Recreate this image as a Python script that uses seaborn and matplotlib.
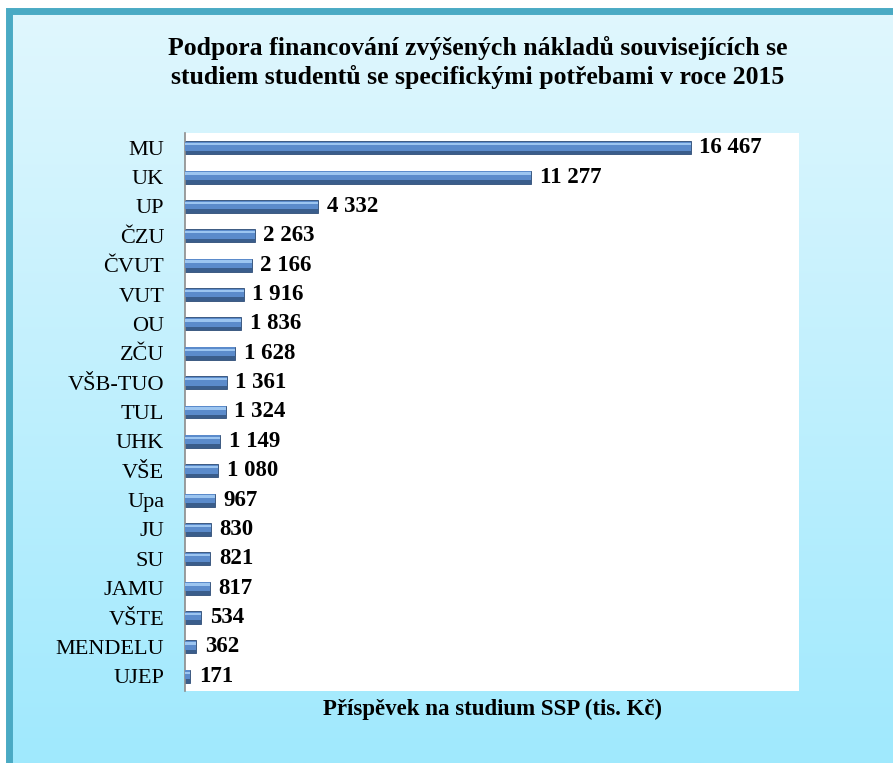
import numpy as np
import pandas as pd
import seaborn as sns
import matplotlib
matplotlib.use('Agg')
import matplotlib.pyplot as plt
from matplotlib.patches import Rectangle

# data (tis. Kč)
schools = ["MU", "UK", "UP", "ČZU", "ČVUT", "VUT", "OU", "ZČU", "VŠB-TUO", "TUL",
           "UHK", "VŠE", "Upa", "JU", "SU", "JAMU", "VŠTE", "MENDELU", "UJEP"]
values = [16467, 11277, 4332, 2263, 2166, 1916, 1836, 1628, 1361, 1324,
          1149, 1080, 967, 830, 821, 817, 534, 362, 171]
title = "Podpora financování zvýšených nákladů souvisejících se\nstudiem studentů se specifickými potřebami v roce 2015"
xlabel = "Příspěvek na studium SSP (tis. Kč)"

df = pd.DataFrame({"skola": schools, "castka": values})

sns.set_style("white")
plt.rcParams['font.family'] = ['Liberation Serif', 'DejaVu Serif']
plt.rcParams['text.color'] = 'black'
plt.rcParams['axes.labelcolor'] = 'black'
plt.rcParams['ytick.color'] = 'black'

fig = plt.figure(figsize=(8.93, 7.63), dpi=100)

# background: light blue gradient with teal frame
bg = fig.add_axes([0, 0, 1, 1], zorder=-10)
grad = np.linspace(0, 1, 256).reshape(-1, 1)
cmap = matplotlib.colors.LinearSegmentedColormap.from_list("bg", ["#E1F7FE", "#A0E9FD"])
bg.imshow(grad, aspect='auto', cmap=cmap, extent=[0, 1, 0, 1])
bg.set_xlim(0, 1)
bg.set_ylim(0, 1)
bg.axis('off')
bg.add_patch(Rectangle((0, 0.99), 1, 0.02, color='white', transform=bg.transAxes, zorder=2))
bg.add_patch(Rectangle((0, 0), 0.0067, 1, color='white', transform=bg.transAxes, zorder=2))
bg.add_patch(Rectangle((0.0101, -0.1), 1.1, 1.085, fill=False,
                       edgecolor='#4AAAC4', linewidth=5, transform=bg.transAxes, zorder=3))

ax = fig.add_axes([0.2072, 0.0944, 0.6876, 0.7313])
ax.set_facecolor('white')

sns.barplot(data=df, x="castka", y="skola", orient="h", color="#3A5D8B",
            width=0.44, saturation=1, ax=ax, edgecolor="#2F4E78", linewidth=0.6)
pos = np.arange(len(schools))
ax.barh(pos - 0.05, values, height=0.30, color="#5B8BCB", linewidth=0, zorder=3)
ax.barh(pos - 0.12, values, height=0.08, color="#9CC5F0", linewidth=0, zorder=4)

for i, v in enumerate(values):
    ax.text(v + 280, i, f"{v:,}".replace(",", " "), va='center', ha='left',
            fontsize=16.5, fontweight='bold', color='black')

ax.set_xlim(0, 20000)
ax.set_ylim(18.5, -0.5)
ax.set_xticks([])
ax.set_ylabel("")
ax.set_xlabel(xlabel, fontsize=16.5, fontweight='bold', labelpad=6)
ax.tick_params(axis='y', length=0, labelsize=16, pad=15, labelcolor='black')
for s in ['top', 'right', 'bottom']:
    ax.spines[s].set_visible(False)
ax.spines['left'].set_color('#8C8C8C')
ax.spines['left'].set_linewidth(1.2)

fig.text(0.535, 0.918, title, ha='center', va='center', fontsize=18.5,
         fontweight='bold', linespacing=1.3)

fig.savefig('out.png', dpi=100)
